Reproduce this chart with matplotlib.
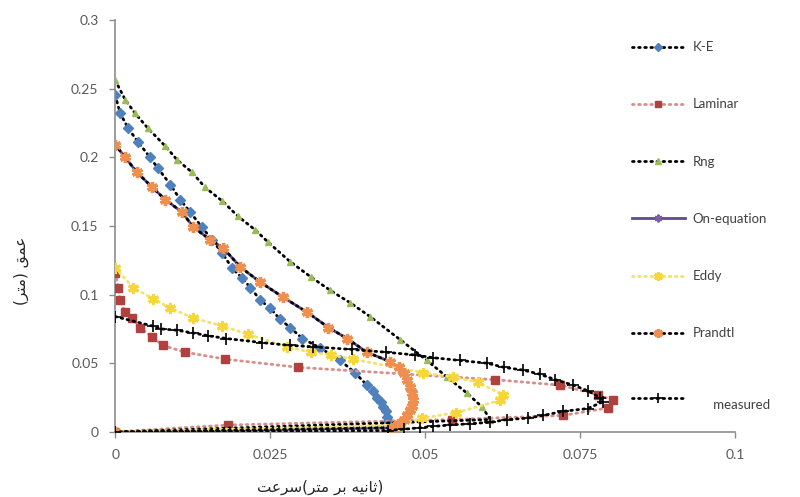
"""Velocity-depth profiles of the turbulence models against the measured profile."""

import matplotlib

matplotlib.use("Agg")
import matplotlib.pyplot as plt

# velocity (m/s) and depth (m) of each profile, surface -> bed -> origin
ke_vel = [0, 0.0008, 0.0021, 0.0037, 0.0056, 0.0069, 0.0089, 0.0105, 0.0121, 0.0140,
          0.0156, 0.0173, 0.0189, 0.0205, 0.0218, 0.0234, 0.0250, 0.0266, 0.0282,
          0.0302, 0.0331, 0.0363, 0.0387, 0.0406, 0.0415, 0.0423, 0.0428, 0.0432,
          0.0436, 0.0439, 0.0440, 0.0441, 0]
ke_depth = [0.245, 0.232, 0.221, 0.211, 0.200, 0.192, 0.180, 0.169, 0.160, 0.149,
            0.140, 0.130, 0.119, 0.112, 0.105, 0.096, 0.090, 0.082, 0.076,
            0.068, 0.061, 0.052, 0.043, 0.034, 0.030, 0.025, 0.022, 0.018,
            0.015, 0.011, 0.008, 0.004, 0]

laminar_vel = [0, 0.0005, 0.0008, 0.0016, 0.0027, 0.0040, 0.0060, 0.0077, 0.0113,
               0.0177, 0.0295, 0.0613, 0.0718, 0.0779, 0.0803, 0.0795, 0.0723,
               0.0544, 0.0182, 0]
laminar_depth = [0.116, 0.105, 0.096, 0.087, 0.083, 0.076, 0.069, 0.063, 0.058,
                 0.053, 0.047, 0.038, 0.034, 0.027, 0.023, 0.0175, 0.012,
                 0.009, 0.005, 0]

rng_vel = [0, 0.0016, 0.0032, 0.0053, 0.0081, 0.0100, 0.0124, 0.0145, 0.0173, 0.0198,
           0.0226, 0.0247, 0.0282, 0.0315, 0.0347, 0.0379, 0.0411, 0.0460, 0.0503,
           0.0535, 0.0568, 0.0592, 0.0605, 0]
rng_depth = [0.256, 0.242, 0.232, 0.221, 0.208, 0.198, 0.189, 0.178, 0.168, 0.157,
             0.147, 0.138, 0.124, 0.113, 0.103, 0.094, 0.084, 0.067, 0.052,
             0.040, 0.028, 0.018, 0.009, 0]

prandtl_vel = [0, 0.0016, 0.0035, 0.0060, 0.0081, 0.0108, 0.0126, 0.0153, 0.0174,
               0.0202, 0.0234, 0.0271, 0.0310, 0.0344, 0.0374, 0.0406, 0.0444,
               0.0457, 0.0465, 0.0471, 0.0476, 0.0479, 0.0481, 0.0479, 0.0476,
               0.0471, 0.0465, 0.0456, 0.0447, 0]
prandtl_depth = [0.209, 0.200, 0.189, 0.178, 0.169, 0.160, 0.149, 0.140, 0.134,
                 0.120, 0.109, 0.098, 0.087, 0.076, 0.068, 0.058, 0.051,
                 0.047, 0.043, 0.038, 0.033, 0.028, 0.023, 0.019, 0.016,
                 0.012, 0.009, 0.006, 0.003, 0]

# the one-equation model falls on the Prandtl profile
oneq_vel = list(prandtl_vel)
oneq_depth = list(prandtl_depth)

eddy_vel = [0, 0.0029, 0.0061, 0.0089, 0.0126, 0.0173, 0.0215, 0.0277, 0.0315,
            0.0348, 0.0384, 0.0497, 0.0545, 0.0585, 0.0626, 0.0621, 0.0550,
            0.0495, 0.0460, 0]
eddy_depth = [0.1195, 0.105, 0.097, 0.090, 0.083, 0.077, 0.071, 0.062, 0.058,
              0.056, 0.053, 0.043, 0.040, 0.036, 0.027, 0.023, 0.014,
              0.010, 0.005, 0]

measured_vel = [0, 0.0061, 0.0074, 0.0100, 0.0126, 0.0150, 0.0179, 0.0237, 0.0282,
                0.0319, 0.0382, 0.0437, 0.0484, 0.0513, 0.0556, 0.0600, 0.0627,
                0.0658, 0.0685, 0.0710, 0.0739, 0.0762, 0.0782, 0.0787, 0.0762,
                0.0723, 0.0690, 0.0665, 0.0632, 0.0605, 0.0573, 0.0540, 0.0513,
                0.0492, 0.0465, 0.0440, 0]
measured_depth = [0.084, 0.077, 0.075, 0.074, 0.072, 0.070, 0.068, 0.065, 0.063,
                  0.062, 0.060, 0.058, 0.056, 0.054, 0.052, 0.050, 0.047,
                  0.045, 0.042, 0.038, 0.034, 0.030, 0.025, 0.022, 0.017,
                  0.015, 0.012, 0.010, 0.009, 0.007, 0.006, 0.005, 0.004,
                  0.003, 0.002, 0.001, 0]

series_labels = ["K-E", "Laminar", "Rng", "On-equation", "Eddy", "Prandtl", "measured"]
x_ticks = [0, 0.025, 0.05, 0.075, 0.1]
x_tick_labels = ["0", "0.025", "0.05", "0.075", "0.1"]
y_ticks = [0, 0.05, 0.1, 0.15, 0.2, 0.25, 0.3]
y_tick_labels = ["0", "0.05", "0.1", "0.15", "0.2", "0.25", "0.3"]

# Persian axis titles in shaped presentation forms, laid out left to right
x_title = ("\uFE96\uFECB\uFEAE\uFEB3" + "(" + "\uFEAE\uFE98\uFEE3" + " "
           + "\uFEAE\uFE91" + " " + "\uFEEA\uFEF4\uFEE7\uFE8E\uFE9B" + ")")
y_title = "(" + "\uFEAE\uFE98\uFEE3" + ")" + " " + "\uFED6\uFEE4\uFECB"

plt.rcParams["font.family"] = ["Lato", "DejaVu Sans"]

DOT = (0, (0.6, 1.6))
fig = plt.figure(figsize=(8.0, 4.97), dpi=100)
ax = fig.add_axes([0.144, 0.131, 0.775, 0.829])

common = dict(linewidth=2.0, dash_capstyle="round")
h_ke, = ax.plot(ke_vel, ke_depth, color="black", linestyle=DOT, marker="D",
                markersize=5, markerfacecolor="#4F81BD", markeredgecolor="#4F81BD",
                zorder=2, **common)
h_lam, = ax.plot(laminar_vel, laminar_depth, color="#D58F8C", linestyle=DOT,
                 marker="s", markersize=6, markerfacecolor="#B0413E",
                 markeredgecolor="#B0413E", zorder=3, **common)
h_rng, = ax.plot(rng_vel, rng_depth, color="black", linestyle=DOT, marker="^",
                 markersize=5, markerfacecolor="#9BBB59", markeredgecolor="#9BBB59",
                 zorder=4, **common)
h_one, = ax.plot(oneq_vel, oneq_depth, color="#5F4B8B", linestyle="-",
                 linewidth=2.0, marker=(6, 2, 0), markersize=7,
                 markeredgecolor="#7A5FA8", markeredgewidth=1.5, zorder=5)
h_eddy, = ax.plot(eddy_vel, eddy_depth, color="#F1E46A", linestyle=DOT,
                  marker=(6, 2, 0), markersize=8, markeredgecolor="#F7D63A",
                  markeredgewidth=2.2, zorder=6, **common)
h_pr, = ax.plot(prandtl_vel, prandtl_depth, color="black", linestyle=DOT,
                marker=(6, 2, 0), markersize=8, markeredgecolor="#EE8F4F",
                markeredgewidth=2.4, zorder=7, **common)
h_meas, = ax.plot(measured_vel, measured_depth, color="black", linestyle=DOT,
                  marker="+", markersize=9, markeredgewidth=1.2, zorder=8, **common)

ax.set_xlim(0, 0.1)
ax.set_ylim(0, 0.3)
ax.set_xticks(x_ticks)
ax.set_xticklabels(x_tick_labels)
ax.set_yticks(y_ticks)
ax.set_yticklabels(y_tick_labels)
ax.tick_params(axis="both", direction="out", length=4, width=1, color="#8C8C8C",
               labelcolor="#595959", labelsize=10)
ax.tick_params(axis="x", pad=8)
ax.tick_params(axis="y", pad=8)
for side in ("top", "right"):
    ax.spines[side].set_visible(False)
for side in ("left", "bottom"):
    ax.spines[side].set_color("#8C8C8C")
    ax.spines[side].set_linewidth(1.2)

fig.text(0.40, 0.02, x_title, family="DejaVu Sans", fontsize=11,
         color="#262626", ha="center", va="center")
fig.text(0.027, 0.455, y_title, family="DejaVu Sans", fontsize=11,
         color="#262626", ha="center", va="center", rotation=90)

handles = [h_ke, h_lam, h_rng, h_one, h_eddy, h_pr, h_meas]
labels = series_labels[:-1] + ["\n      " + series_labels[-1]]
leg = fig.legend(handles, labels, loc="upper left", bbox_to_anchor=(0.775, 0.941),
                 frameon=False, fontsize=9.5, labelcolor="#404040", numpoints=1,
                 handlelength=4.0, handletextpad=0.6, labelspacing=3.43,
                 markerscale=0.8)

fig.savefig("out.png", dpi=100)
